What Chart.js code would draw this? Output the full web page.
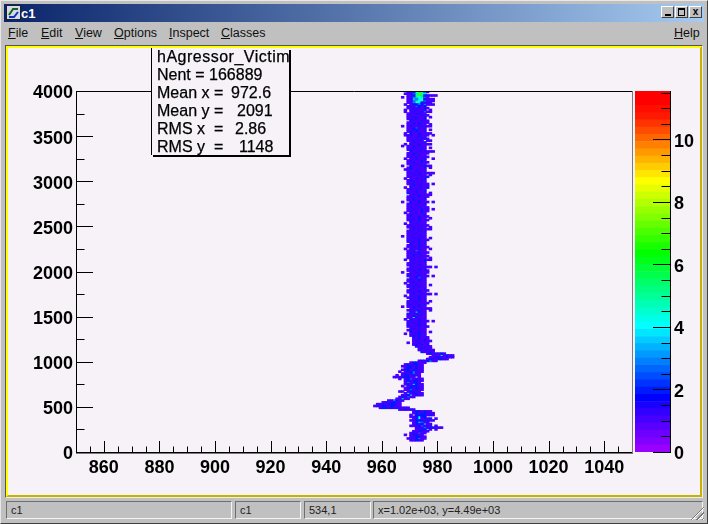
<!DOCTYPE html>
<html>
<head>
<meta charset="utf-8">
<title>c1</title>
<script src="https://cdn.jsdelivr.net/npm/chart.js@4/dist/chart.umd.js"></script>
<style>
html, body { margin: 0; padding: 0; background: #c0c0c0; }
#win { position: relative; width: 708px; height: 524px; overflow: hidden; background: #c0c0c0;
       font-family: "Liberation Sans", sans-serif; color: #000; }
#win > div, #win > canvas { position: absolute; }
#edge { left: 0; top: 0; width: 706px; height: 522px; border: 1px solid; border-color: #e8e8e8 #404040 #404040 #e8e8e8; }
#titlebar { left: 4px; top: 4px; width: 700px; height: 18px; background: linear-gradient(to right, #0a246a, #a6caf0); }
#titlebar b { position: absolute; left: 17px; top: 2px; font: bold 13px "Liberation Sans", sans-serif; color: #fff; }
#titlebar svg { position: absolute; left: 2px; top: 1px; }
.wbtn { position: absolute; top: 2px; width: 13px; height: 12px; background: #c0c0c0; box-sizing: border-box;
        border: 1px solid; border-color: #fff #404040 #404040 #fff; }
.wbtn i { position: absolute; display: block; }
.menu { top: 26px; font-size: 12.5px; line-height: 15px; color: #111; }
.menu u { text-decoration: underline; }
#sunken { left: 5px; top: 45px; width: 698px; height: 453px; box-sizing: border-box; border: 1px solid; border-color: #555 #eee #eee #555; }
#pad { left: 6px; top: 46px; width: 696px; height: 451px; box-sizing: border-box; background: #f6f2f8;
       border-style: solid; border-width: 2px; border-color: #ffff00 #c4b400 #c4b400 #ffff00; }
#stats { left: 151px; top: 48px; width: 137px; height: 107px; background: #f6f2f8; overflow: hidden;
         border-left: 1px solid #000; box-shadow: 2px 2px 0 #000; font-size: 16px; line-height: 18px;
         -webkit-text-stroke: 0.25px #000; }
#stats span { position: absolute; white-space: pre; }
.field { top: 501px; height: 18px; box-sizing: border-box; border: 1px solid; border-color: #6e6e6e #f4f4f4 #f4f4f4 #6e6e6e;
         font-size: 11px; line-height: 16px; padding-left: 4px; color: #222; background: #c0c0c0; white-space: pre; }
#grip { left: 690px; top: 506px; width: 14px; height: 14px;
        background: repeating-linear-gradient(135deg, transparent 0 2px, #777 2px 3px, #fff 3px 4px);
        clip-path: polygon(100% 0, 100% 100%, 0 100%); }
</style>
</head>
<body>
<div id="win">
  <div id="edge"></div>
  <div id="titlebar">
    <svg width="15" height="15" viewBox="0 0 15 15">
      <rect x="0.5" y="0.5" width="14" height="14" fill="#d8d8e8" stroke="#222"/>
      <path d="M3 10 L7 4 L12 4" stroke="#0a6a1a" stroke-width="2" fill="none"/>
      <path d="M3 12 L8 12 L12 7" stroke="#1030c0" stroke-width="2" fill="none"/>
    </svg>
    <b>c1</b>
    <span class="wbtn" style="left:657px"><i style="left:3px;top:7px;width:6px;height:2px;background:#000"></i></span>
    <span class="wbtn" style="left:671px"><i style="left:2px;top:1px;width:5px;height:5px;border:1px solid #000;border-top-width:2px"></i></span>
    <span class="wbtn" style="left:685px;font:bold 10px/10px 'Liberation Sans';text-align:center">x</span>
  </div>
  <div class="menu" style="left:8px"><u>F</u>ile</div>
  <div class="menu" style="left:41px"><u>E</u>dit</div>
  <div class="menu" style="left:75px"><u>V</u>iew</div>
  <div class="menu" style="left:114px"><u>O</u>ptions</div>
  <div class="menu" style="left:169px"><u>I</u>nspect</div>
  <div class="menu" style="left:221px"><u>C</u>lasses</div>
  <div class="menu" style="left:674px"><u>H</u>elp</div>
  <div id="sunken"></div>
  <div id="pad"></div>
  <canvas id="histCanvas" width="708" height="524" style="left:0;top:0"></canvas>
  <canvas id="paletteCanvas" width="73" height="524" style="left:635px;top:0"></canvas>
  <div id="stats">
    <span style="left:5px;top:0;letter-spacing:0.5px">hAgressor_Victim</span>
    <span style="left:5px;top:18px">Nent = 166889</span>
    <span style="left:5px;top:36px">Mean x =</span><span style="left:79px;top:36px">972.6</span>
    <span style="left:5px;top:54px">Mean y =</span><span style="left:85px;top:54px">2091</span>
    <span style="left:5px;top:72px">RMS x  =</span><span style="left:83px;top:72px">2.86</span>
    <span style="left:5px;top:90px">RMS y  =</span><span style="left:87px;top:90px">1148</span>
  </div>
  <div class="field" style="left:6px;width:226px">c1</div>
  <div class="field" style="left:235px;width:66px">c1</div>
  <div class="field" style="left:304px;width:67px">534,1</div>
  <div class="field" style="left:373px;width:330px">x=1.02e+03, y=4.49e+03</div>
  <div id="grip"></div>
</div>
<script>
// axis limits and tick positions
const xMin = 850, xMax = 1050;
const yMin = 0, yMax = 4000;
const zMin = 0, zMax = 11.55;
const xTicks = [860, 880, 900, 920, 940, 960, 980, 1000, 1020, 1040];
const xMinorTicks = [855, 865, 870, 875, 885, 890, 895, 905, 910, 915, 925, 930, 935, 945, 950, 955, 965, 970, 975,
    985, 990, 995, 1005, 1010, 1015, 1025, 1030, 1035, 1045];
const yTicks = [0, 500, 1000, 1500, 2000, 2500, 3000, 3500, 4000];
const yMinorTicks = [250, 750, 1250, 1750, 2250, 2750, 3250, 3750];
const zTicks = [0, 2, 4, 6, 8, 10];
const zMinorTicks = [0.5, 1, 1.5, 2.5, 3, 3.5, 4.5, 5, 5.5, 6.5, 7, 7.5, 8.5, 9, 9.5, 10.5, 11, 11.5];

// histogram bins: each string is one y bin, each char one x bin, '.' = empty
const binHeight = 20;
const upperFirstX = 966, upperTopY = 3980;
const upperRows = [
    '...11246731...', '..11236854....', '...11257622111', '.1.11364631...', '...1243542111.',
    '...1136473111.', '...113452121..', '..1.122323111.', '...1213212....', '...11212121...',
    '..1.212111.1..', '..1.12112311..', '...1112211....', '...12111211...', '...1122112.1..',
    '...1212112....', '....2111211...', '...11212111...', '...1121211.1..', '.1.121112111..',
    '...1123211....', '...1122111.1..', '...1212112....', '..1.21121111..', '..112112111.1.',
    '...1111212....', '...11121211...', '...112121.11..', '....121112....', '..1.21121111..',
    '.1.1121211....', '...1121111.1..', '...1211121....', '....211212111.', '...11221111...',
    '...1121211....', '...12121111...', '..1.112112..1.', '...1211121....', '...11211211...',
    '...1121211....', '.1..21112211..', '...1211112.1..', '..11211211....', '...1112111....',
    '...1211211111.', '...1121211.1..', '...12111212...', '..1.112112....', '...1211121....',
    '...1121111....', '...11211211.1.', '....1212111...', '..1.2111212...', '...1211211....',
    '...1112112....', '...2112111.1..', '....12121111..', '...12112111...', '...1121112....',
    '...1121211....', '.1..2112111.1.', '...1211212....', '...1112111....', '...12112111...',
    '...11211211.1.', '...12111211...', '..1.112121....', '...1211112....', '...12112111...',
    '...1121211.1..', '...12112111...', '....211211....', '..1.112111....', '...12111211...',
    '...1121211.1..', '....12112111..', '...1211212....', '...1112111....', '...1121211....',
    '.1.1211121....', '...1121211.1..', '...21112111...', '...1121211....', '....211212....',
    '...1211211....', '...11212111...', '..1.211211.1..', '...1123111....', '...12112111...',
    '...1121211....', '...11211211...', '...1211211.1..', '..1.12111211..', '....211212....',
    '...1121111....', '...1211211....', '....12112111.1', '...1211212....', '...11212111...',
    '.1..1121111...', '...1211212....', '...21121111.1.', '....112311....', '...1211211....',
    '...1121211....', '..1.121111....', '...2112111.1..', '...1121211....', '....121112....',
    '...12112111...', '...1121211....', '....12112111.1', '..1.211211....', '...1121211....',
    '....211212....', '...1121211.1..', '...21121111...', '...1211212....', '.1.1121211....',
    '....12112111..', '...1211211.1..', '....124211....', '...2112111....', '...1121211....',
    '...1152111....', '..1.211211....', '...12112111.1.', '...1121211....', '...2111212....',
    '...12112111...', '....121111....', '...1211211....', '....211211.1..', '..1.112211....',
    '....121211....', '.....212111...', '.....112121...', '.....1211211..', '...1.112111...',
    '.....121212...', '......211211..', '.......12111..', '.......112111.', '........21121.'
];
const lowerFirstX = 955, lowerTopY = 1080;
const lowerRows = [
    '.....................1212121', '.......................11151211', '......................112211211',
    '.....................12212211', '..................1212311', '...............122111',
    '.............1212211', '............11221211', '.............1221211',
    '............12212211', '...........1.1223111', '............1212311',
    '..........1.1221211', '.........11122211.1', '...........1.1231211',
    '.............1212211', '.............131221', '.............1214211',
    '............1.122211', '.............1221221', '.............1131211',
    '...........11.12211', '.............1412211', '............11251211',
    '...........122311', '..........12511', '.......113211',
    '.....1212211', '...112122211', '..1212212211',
    '....12212121111', '...........112121', '................1221211',
    '................12122111', '...............1.2222121', '...............112422',
    '................1241212.1', '...............112221211', '................124312',
    '................1212411', '...............11223121.1', '.................1213122111',
    '.................112241.1', '................112211', '...............121311',
    '.............1.12211', '...............112211', '..............1212311', '...............11211'
];

// colour palette of the z axis, bottom band first
const paletteColors = [
    'rgb(153,0,255)', 'rgb(130,0,255)', 'rgb(110,0,255)', 'rgb(90,0,255)', 'rgb(70,0,255)', 'rgb(50,0,255)', 'rgb(25,0,255)', 'rgb(0,0,255)',
    'rgb(0,25,255)', 'rgb(0,51,255)', 'rgb(0,76,255)', 'rgb(0,102,255)', 'rgb(0,128,255)', 'rgb(0,153,255)', 'rgb(0,178,255)', 'rgb(0,204,255)', 'rgb(0,230,255)', 'rgb(0,255,255)',
    'rgb(0,255,230)', 'rgb(0,255,204)', 'rgb(0,255,178)', 'rgb(0,255,153)', 'rgb(0,255,128)', 'rgb(0,255,102)', 'rgb(0,255,76)', 'rgb(0,255,51)', 'rgb(0,255,25)', 'rgb(0,255,0)',
    'rgb(25,255,0)', 'rgb(51,255,0)', 'rgb(76,255,0)', 'rgb(102,255,0)', 'rgb(128,255,0)', 'rgb(153,255,0)', 'rgb(178,255,0)', 'rgb(204,255,0)', 'rgb(230,255,0)', 'rgb(255,255,0)',
    'rgb(255,230,0)', 'rgb(255,204,0)', 'rgb(255,178,0)', 'rgb(255,153,0)', 'rgb(255,128,0)', 'rgb(255,102,0)', 'rgb(255,76,0)', 'rgb(255,51,0)', 'rgb(255,25,0)', 'rgb(255,14,0)', 'rgb(255,0,0)', 'rgb(255,0,0)'
];

const tickFont = { family: '"Liberation Sans", sans-serif', size: 18, weight: 'bold' };
const plainLabel = v => String(v);

function colorForCount(count) {
    const band = Math.floor(count / zMax * paletteColors.length);
    return paletteColors[Math.min(band, paletteColors.length - 1)];
}

// one dataset per count value, one floating bar per occupied cell
function buildCellDatasets() {
    const byCount = {};
    const addRows = (rows, firstX, topY) => {
        rows.forEach((row, r) => {
            const yLow = topY - r * binHeight;
            for (let i = 0; i < row.length; i++) {
                const count = parseInt(row[i], 10);
                if (!count) continue;
                if (!byCount[count]) byCount[count] = [];
                byCount[count].push({ x: [firstX + i, firstX + i + 1], y: yLow + binHeight / 2 });
            }
        });
    };
    addRows(upperRows, upperFirstX, upperTopY);
    addRows(lowerRows, lowerFirstX, lowerTopY);
    return Object.keys(byCount).map(count => ({
        label: 'count ' + count,
        data: byCount[count],
        backgroundColor: colorForCount(Number(count)),
        borderWidth: 0,
        barThickness: 2,
        grouped: false
    }));
}

function setTicks(values) {
    return scale => { scale.ticks = values.map(v => ({ value: v })); };
}

// ROOT draws its ticks inside the frame, the scale only gives the positions
function inwardX(ctx, scale, values, length) {
    values.forEach(v => {
        const px = Math.round(scale.getPixelForValue(v)) + 0.5;
        ctx.moveTo(px, scale.top);
        ctx.lineTo(px, scale.top - length);
    });
}

function inwardY(ctx, scale, values, fromX, length) {
    values.forEach(v => {
        const py = Math.round(scale.getPixelForValue(v)) + 0.5;
        ctx.moveTo(fromX, py);
        ctx.lineTo(fromX + length, py);
    });
}

const frameAndTicks = {
    id: 'frameAndTicks',
    afterDraw(chart) {
        const { ctx, chartArea: a, scales } = chart;
        ctx.save();
        ctx.lineWidth = 1;
        ctx.strokeStyle = '#000';
        ctx.beginPath();
        ctx.moveTo(a.left + 0.5, a.bottom);
        ctx.lineTo(a.left + 0.5, a.top + 0.5);
        ctx.lineTo(a.right, a.top + 0.5);
        inwardX(ctx, scales.x, xTicks, 11);
        inwardX(ctx, scales.x, xMinorTicks, 5.5);
        inwardY(ctx, scales.y, yTicks, a.left, 17);
        inwardY(ctx, scales.y, yMinorTicks, a.left, 8.5);
        ctx.stroke();
        ctx.beginPath();
        ctx.moveTo(a.left, a.bottom + 0.5);
        ctx.lineTo(a.right + 1, a.bottom + 0.5);
        ctx.stroke();
        ctx.strokeStyle = '#7a7a7a';
        ctx.beginPath();
        ctx.moveTo(a.right + 0.5, a.top);
        ctx.lineTo(a.right + 0.5, a.bottom + 1);
        ctx.moveTo(a.left, a.bottom + 1.5);
        ctx.lineTo(a.right + 1, a.bottom + 1.5);
        ctx.stroke();
        ctx.restore();
    }
};

new Chart(document.getElementById('histCanvas'), {
    type: 'bar',
    data: { datasets: buildCellDatasets() },
    options: {
        indexAxis: 'y',
        responsive: false,
        animation: false,
        events: [],
        layout: { padding: { top: 91, right: 76, left: 0, bottom: 0 } },
        plugins: { legend: { display: false }, tooltip: { enabled: false } },
        scales: {
            x: {
                type: 'linear', min: xMin, max: xMax,
                afterBuildTicks: setTicks(xTicks),
                afterFit: s => { s.height = 72; },
                grid: { display: false, drawTicks: false }, border: { display: false },
                ticks: { color: '#000', font: tickFont, padding: 5, maxRotation: 0, autoSkip: false, callback: plainLabel }
            },
            y: {
                type: 'linear', min: yMin, max: yMax, offset: false,
                afterBuildTicks: setTicks(yTicks),
                afterFit: s => { s.width = 76; },
                grid: { display: false, drawTicks: false, offset: false }, border: { display: false },
                ticks: { color: '#000', font: tickFont, padding: 3, labelOffset: 2.5, autoSkip: false, callback: plainLabel }
            }
        }
    },
    plugins: [frameAndTicks]
});

// palette on its own small chart: one floating bar per colour band
const paletteTicks = {
    id: 'paletteTicks',
    afterDraw(chart) {
        const { ctx, chartArea: a, scales } = chart;
        ctx.save();
        ctx.lineWidth = 1;
        ctx.strokeStyle = '#000';
        ctx.beginPath();
        ctx.moveTo(a.right + 0.5, a.top);
        ctx.lineTo(a.right + 0.5, a.bottom + 1);
        inwardY(ctx, scales.z, zTicks, a.right, -17);
        inwardY(ctx, scales.z, zMinorTicks, a.right, -8.5);
        ctx.stroke();
        ctx.restore();
    }
};

new Chart(document.getElementById('paletteCanvas'), {
    type: 'bar',
    data: {
        labels: ['z'],
        datasets: paletteColors.map((color, i) => ({
            data: [[i * zMax / paletteColors.length, (i + 1) * zMax / paletteColors.length]],
            yAxisID: 'z',
            backgroundColor: color,
            borderWidth: 0,
            grouped: false,
            barPercentage: 1,
            categoryPercentage: 1
        }))
    },
    options: {
        responsive: false,
        animation: false,
        events: [],
        layout: { padding: { top: 91, bottom: 72, left: 0, right: 0 } },
        plugins: { legend: { display: false }, tooltip: { enabled: false } },
        scales: {
            x: { display: false },
            z: {
                type: 'linear', position: 'right', axis: 'y', min: zMin, max: zMax,
                afterBuildTicks: setTicks(zTicks),
                afterFit: s => { s.width = 38; },
                grid: { display: false, drawTicks: false }, border: { display: false },
                ticks: { color: '#000', font: tickFont, padding: 4, labelOffset: 2.5, autoSkip: false, callback: plainLabel }
            }
        }
    },
    plugins: [paletteTicks]
});
</script>
</body>
</html>
